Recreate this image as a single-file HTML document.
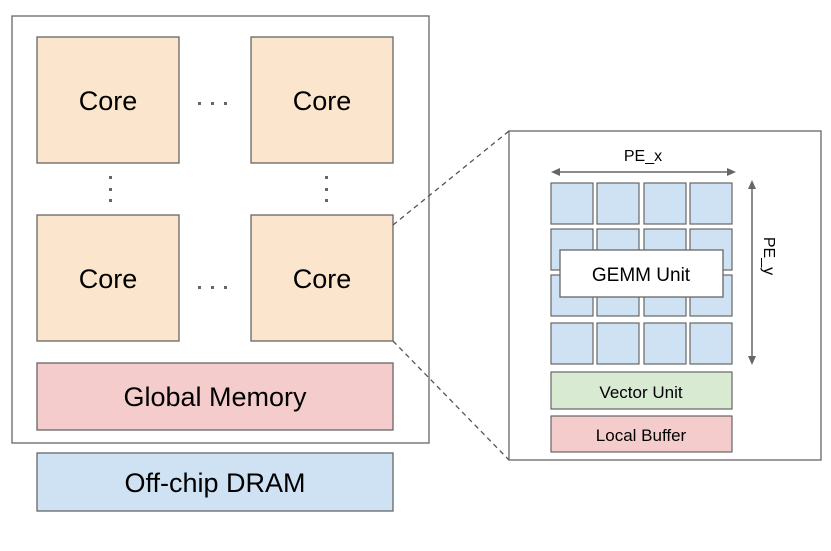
<!DOCTYPE html>
<html><head><style>
body{margin:0;background:#fff;width:831px;height:546px;overflow:hidden;font-family:"Liberation Sans",sans-serif}
</style></head><body>
<svg width="831" height="546" xmlns="http://www.w3.org/2000/svg" font-family="Liberation Sans, sans-serif">
<rect x="12" y="16" width="417" height="427" fill="#fff" stroke="#666" stroke-width="1.3"/>
<g fill="#fce5cd" stroke="#666" stroke-width="1.3">
<rect x="37" y="37" width="142" height="126"/>
<rect x="251" y="37" width="142" height="126"/>
<rect x="37" y="215" width="142" height="126"/>
<rect x="251" y="215" width="142" height="126"/>
</g>
<g font-size="27" text-anchor="middle" fill="#000">
<text x="108" y="110">Core</text><text x="322" y="110">Core</text>
<text x="108" y="288">Core</text><text x="322" y="288">Core</text>
</g>
<g fill="#666">
<rect x="198" y="102" width="3" height="3"/><rect x="211" y="102" width="3" height="3"/><rect x="224" y="102" width="3" height="3"/>
<rect x="198" y="286" width="3" height="3"/><rect x="211" y="286" width="3" height="3"/><rect x="224" y="286" width="3" height="3"/>
<rect x="109" y="176" width="3" height="3"/><rect x="109" y="188" width="3" height="3"/><rect x="109" y="199" width="3" height="3"/>
<rect x="325" y="176" width="3" height="3"/><rect x="325" y="188" width="3" height="3"/><rect x="325" y="199" width="3" height="3"/>
</g>
<rect x="37" y="363" width="356" height="67" fill="#f4cccc" stroke="#666" stroke-width="1.3"/>
<text x="215" y="406" font-size="27" text-anchor="middle">Global Memory</text>
<rect x="37" y="453" width="356" height="58" fill="#cfe2f3" stroke="#666" stroke-width="1.3"/>
<text x="215" y="492" font-size="27" text-anchor="middle">Off-chip DRAM</text>
<line x1="393" y1="225" x2="509" y2="131" stroke="#555" stroke-width="1.3" stroke-dasharray="5,4"/>
<line x1="393" y1="341" x2="509" y2="460" stroke="#555" stroke-width="1.3" stroke-dasharray="5,4"/>
<rect x="509" y="131" width="312" height="329" fill="#fff" stroke="#666" stroke-width="1.3"/>
<g fill="#cfe2f3" stroke="#666" stroke-width="1.2">
<rect x="551" y="183" width="42" height="41"/><rect x="597" y="183" width="42" height="41"/><rect x="644" y="183" width="42" height="41"/><rect x="690" y="183" width="42" height="41"/>
<rect x="551" y="229" width="42" height="41"/><rect x="597" y="229" width="42" height="41"/><rect x="644" y="229" width="42" height="41"/><rect x="690" y="229" width="42" height="41"/>
<rect x="551" y="275" width="42" height="41"/><rect x="597" y="275" width="42" height="41"/><rect x="644" y="275" width="42" height="41"/><rect x="690" y="275" width="42" height="41"/>
<rect x="551" y="323" width="42" height="41"/><rect x="597" y="323" width="42" height="41"/><rect x="644" y="323" width="42" height="41"/><rect x="690" y="323" width="42" height="41"/>
</g>
<rect x="560" y="250" width="163" height="47" fill="#fff" stroke="#666" stroke-width="1.3"/>
<text x="641" y="281" font-size="19" text-anchor="middle">GEMM Unit</text>
<rect x="551" y="372" width="181" height="37" fill="#d9ead3" stroke="#666" stroke-width="1.2"/>
<text x="641" y="398" font-size="17" text-anchor="middle">Vector Unit</text>
<rect x="551" y="416" width="181" height="36" fill="#f4cccc" stroke="#666" stroke-width="1.2"/>
<text x="641" y="441" font-size="17" text-anchor="middle">Local Buffer</text>
<g stroke="#666" stroke-width="1.5" fill="#666">
<line x1="555" y1="172" x2="732" y2="172"/>
<path d="M551 172 L560 168 L560 176Z" stroke="none"/>
<path d="M736 172 L727 168 L727 176Z" stroke="none"/>
<line x1="752" y1="184" x2="752" y2="361"/>
<path d="M752 180 L748 189 L756 189Z" stroke="none"/>
<path d="M752 365 L748 356 L756 356Z" stroke="none"/>
</g>
<text x="643" y="161" font-size="16" text-anchor="middle">PE_x</text>
<text x="0" y="0" font-size="16" text-anchor="middle" transform="translate(764,256) rotate(90)">PE_y</text>
</svg>
</body></html>
